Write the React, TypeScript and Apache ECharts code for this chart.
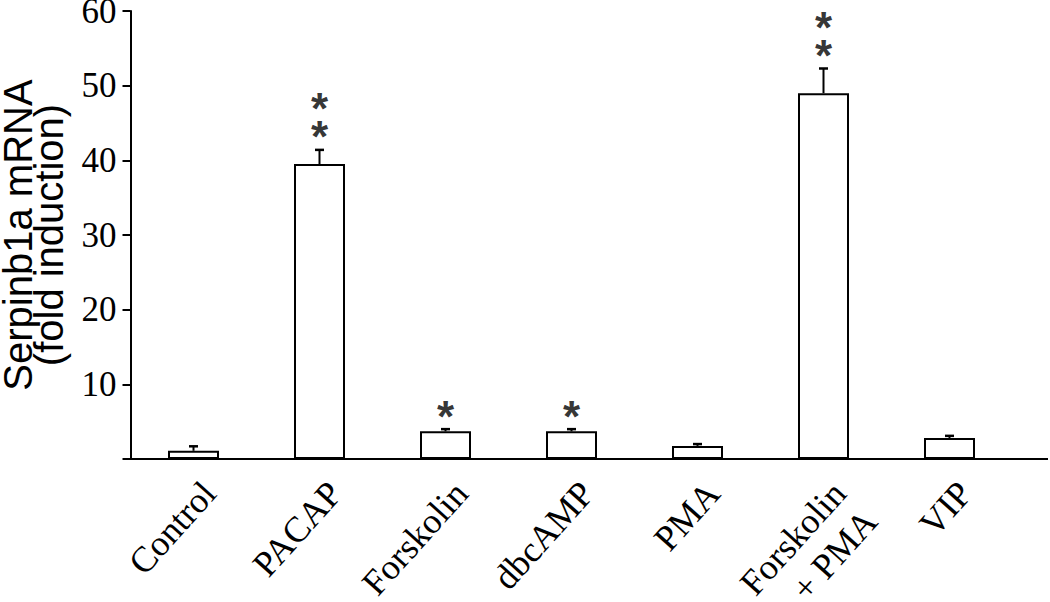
import React, { useEffect, useRef } from "react";
import * as echarts from "echarts";

const categories = ["Control", "PACAP", "Forskolin", "dbcAMP", "PMA", "Forskolin\n+ PMA", "VIP"];
const means = [1.1, 39.5, 3.7, 3.7, 1.75, 49.0, 2.8];
const errors = [0.6, 1.9, 0.3, 0.3, 0.25, 3.3, 0.3];
const stars = ["", "*\n*", "*", "*", "", "*\n*", ""];
const yTicks = [0, 10, 20, 30, 40, 50, 60];

const SERIF = "'Liberation Serif', 'Times New Roman', serif";
const SANS = "'Liberation Sans', Arial, sans-serif";

export default function App() {
  const ref = useRef<HTMLDivElement>(null);
  useEffect(() => {
    document.body.style.margin = "0";
    const chart = echarts.init(ref.current!, null, { renderer: "svg" });
    const gridLeft = 130.5;
    const gridTop = 11;
    const gridBottom = 143;
    const gridWidth = 882;
    chart.setOption({
      animation: false,
      backgroundColor: "#ffffff",
      grid: {
        left: gridLeft,
        top: gridTop,
        bottom: gridBottom,
        width: gridWidth,
        containLabel: false,
        outerBoundsMode: "none",
      },
      xAxis: {
        type: "category",
        data: categories,
        axisLine: { show: true, lineStyle: { color: "#000", width: 2 } },
        axisTick: { show: false },
        axisLabel: {
          rotate: 48,
          interval: 0,
          margin: 14,
          color: "#000",
          fontFamily: SERIF,
          fontSize: 36,
          lineHeight: 42,
          verticalAlign: "top",
        },
      },
      yAxis: {
        type: "value",
        min: yTicks[0],
        max: yTicks[yTicks.length - 1],
        interval: 10,
        name: "Serpinb1a mRNA\n(fold induction)",
        nameLocation: "middle",
        nameGap: 66,
        nameTextStyle: { fontFamily: SANS, fontSize: 40, lineHeight: 31, color: "#000" },
        splitLine: { show: false },
        axisLine: { show: true, lineStyle: { color: "#000", width: 2 } },
        axisTick: { show: true, length: 8, lineStyle: { color: "#000", width: 2 } },
        axisLabel: {
          margin: 14,
          color: "#000",
          fontFamily: SERIF,
          fontSize: 35,
          formatter: (v: number) => (v === 0 ? "" : String(v)),
        },
      },
      graphic: [
        {
          type: "line",
          shape: { x1: gridLeft + gridWidth - 1, y1: 602 - gridBottom, x2: 1048, y2: 602 - gridBottom },
          style: { stroke: "#000", lineWidth: 2 },
        },
      ],
      series: [
        {
          type: "bar",
          data: means,
          barWidth: 51,
          itemStyle: { color: "#fff", borderColor: "#000", borderWidth: 2 },
          z: 2,
        },
        {
          type: "custom",
          data: means.map((m, i) => [i, m, m + errors[i]]),
          renderItem: (params: any, api: any) => {
            const base = api.coord([api.value(0), api.value(1)]);
            const top = api.coord([api.value(0), api.value(2)]);
            const half = 4.5;
            return {
              type: "group",
              children: [
                { type: "line", shape: { x1: base[0], y1: base[1], x2: top[0], y2: top[1] }, style: { stroke: "#000", lineWidth: 2 } },
                { type: "line", shape: { x1: top[0] - half, y1: top[1], x2: top[0] + half, y2: top[1] }, style: { stroke: "#000", lineWidth: 2.5 } },
              ],
            };
          },
          z: 3,
        },
        {
          type: "scatter",
          data: means.map((m, i) => [i, m + errors[i]]),
          symbolSize: 0,
          label: {
            show: true,
            position: "top",
            distance: -1,
            formatter: (p: any) => stars[p.dataIndex],
            fontFamily: SANS,
            fontWeight: "bold",
            fontSize: 44,
            lineHeight: 28,
            color: "#000",
          },
          z: 4,
        },
      ],
    });
    return () => chart.dispose();
  }, []);
  return <div ref={ref} style={{ position: "fixed", left: 0, top: 0, width: 1050, height: 602 }} />;
}
